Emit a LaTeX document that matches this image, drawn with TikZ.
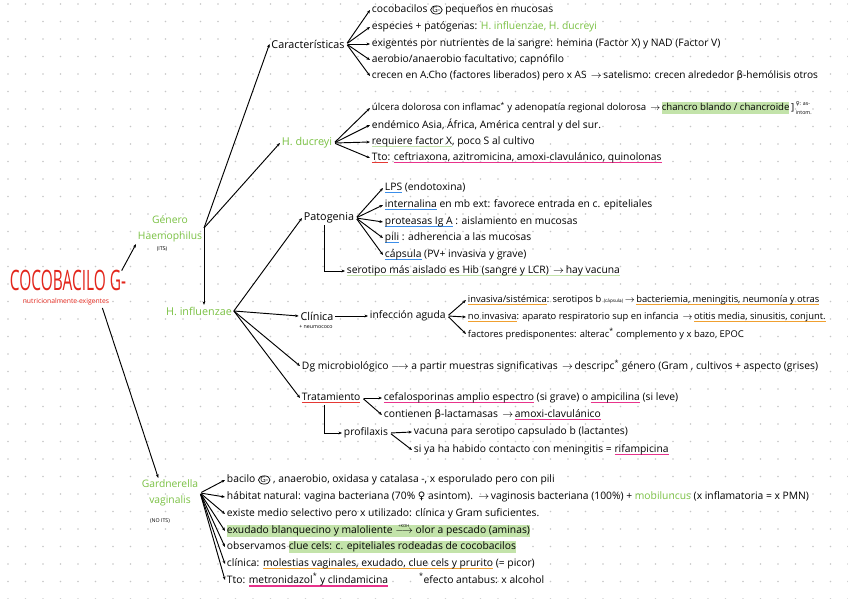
\documentclass[tikz,border=0pt]{standalone}
\usepackage{fontspec,amsmath,graphicx}
\setmainfont{Open Sans}
\newfontfamily\symfont{DejaVu Sans}
\usetikzlibrary{arrows.meta,calc,shapes.geometric}
\definecolor{rootred}{RGB}{227,38,28}
\definecolor{leafgreen}{RGB}{122,193,67}
\colorlet{hlgreen}{leafgreen!45}
\definecolor{ulmagenta}{RGB}{232,51,140}
\definecolor{ulblue}{RGB}{59,142,234}
\definecolor{ulorange}{RGB}{240,160,48}
\definecolor{ulred}{RGB}{229,57,53}
\colorlet{dotgray}{black!22}
\newsavebox\mkbox
\newcommand\uln[2]{\sbox\mkbox{#2}\rlap{\textcolor{#1}{\rule[-2.6pt]{\wd\mkbox}{1.1pt}}}\usebox\mkbox}
\newcommand\hlt[1]{\sbox\mkbox{#1}\rlap{\textcolor{hlgreen}{\rule[-2.8pt]{\wd\mkbox}{9.8pt}}}\usebox\mkbox}
\newcommand\gneg{\tikz[baseline=(gn.base)]\node[draw,ellipse,inner sep=0.1pt,line width=0.6pt,font=\fontsize{6.5}{6.5}\selectfont](gn){G-};}
\newcommand\fem{{\symfont ♀}}
\newcommand\bet{{\symfont β}}
\newcommand\ra{\,$\rightarrow$\,}

\begin{document}
\begin{tikzpicture}[x=0.03cm,y=-0.03cm,
    item/.style={anchor=west,inner sep=1.5pt,font=\fontsize{8.8}{10}\selectfont},
    itemsm/.style={item,font=\fontsize{8}{10}\selectfont},
    hub/.style={inner sep=1.5pt,font=\fontsize{9.2}{10}\selectfont},
    hubtwo/.style={hub,align=center,text=leafgreen,font=\fontsize{8.8}{13.5}\selectfont},
    tag/.style={inner sep=0pt,font=\fontsize{4.5}{5}\selectfont},
    arr/.style={-{Stealth[length=3pt,width=2.4pt]},line width=0.8pt},
    fan/.style={arr,shorten <=1pt}]
  \useasboundingbox (0,0) rectangle (848,599);
  \fill[white] (0,0) rectangle (848,599);
  % dotted paper
  \foreach \i in {0,...,48}{
    \foreach \j in {0,...,34}{
      \fill[dotgray] (8+17.5*\i,4+17.5*\j) circle (0.8);
    }
  }
  % main branches
  \node[text=rootred,inner sep=0pt,font=\fontsize{24}{24}\selectfont] (root) at (68,280) {\scalebox{.55}[1]{COCOBACILO G-}};
  \node[text=rootred,inner sep=0pt,font=\fontsize{5.8}{6}\selectfont] (sub) at (66,302) {nutricionalmente exigentes};
  \node[hubtwo] (haem) at (170,229) {Género\\Haemophilus};
  \node[tag] (its) at (162,249) {(ITS)};
  \node[hubtwo] (gard) at (170,493) {Gardnerella\\vaginalis};
  \node[tag] (noits) at (160,521) {(NO ITS)};
  \node[hub,text=leafgreen] (infl) at (199,311) {H. influenzae};
  \node[hub,text=leafgreen] (ducr) at (307,143) {H. ducreyi};
  \node[hub] (car) at (308,44) {Características};
  \coordinate (hhub) at (204,228);
  \draw[arr] ([shift={(-4pt,-1pt)}]root.north east) -- (haem.south west);
  \draw[arr] ([shift={(-6pt,-2pt)}]sub.south east) -- ([xshift=-10pt]gard.north);
  \draw[arr] (hhub) -- (car.west);
  \draw[arr] (hhub) -- (ducr.west);
  \draw[arr] (hhub) -- (hhub |- infl.north);

  % caracteristicas
  \foreach \n/\y/\t in {1/10/{cocobacilos \gneg\ pequeños en mucosas},
      2/27/{especies + patógenas: \textcolor{leafgreen}{H. influenzae, H. ducreyi}},
      3/44/{exigentes por nutrientes de la sangre: hemina (Factor X) y NAD (Factor V)},
      4/60/{aerobio/anaerobio facultativo, capnófilo},
      5/76/{\fontsize{8.6}{10}\selectfont crecen en A.Cho (factores liberados) pero x AS \ra satelismo: crecen alrededor \bet-hemólisis otros}}{
    \node[item] (car-\n) at (370,\y) {\t};
    \draw[fan] (car.east) -- (car-\n.west);
  }

  % H. ducreyi
  \foreach \n/\y/\t in {1/108/{\fontsize{8.2}{10}\selectfont úlcera dolorosa con inflamac\textsuperscript{*} y adenopatía regional dolorosa \ra\hlt{chancro blando / chancroide}\,]\,\smash{\raisebox{-3.5pt}{\fontsize{4.5}{4.5}\selectfont\shortstack[l]{\fem: as-\\[1.2pt]intom.}}}},
      2/125/{endémico Asia, África, América central y del sur.},
      3/142/{\uln{hlgreen}{requiere factor X}, poco S al cultivo},
      4/158/{\uln{ulred}{Tto}: \uln{ulmagenta}{ceftriaxona, azitromicina, amoxi-clavulánico, quinolonas}}}{
    \node[item] (duc-\n) at (370,\y) {\t};
    \draw[fan] (ducr.east) -- (duc-\n.west);
  }

  % H. influenzae
  \node[hub] (pat) at (329,218) {Patogenia};
  \node[hub] (cli) at (317,316) {Clínica};
  \node[tag] (neumo) at (316,327) {+ neumococo};
  \node[item] (dg) at (300,366) {Dg microbiológico $\longrightarrow$ a partir muestras significativas \ra descripc\textsuperscript{*} género (Gram , cultivos + aspecto (grises)};
  \node[item] (tto) at (300,398) {\uln{ulred}{Tratamiento}};
  \foreach \t in {pat,cli,dg,tto}
    \draw[arr] (infl.east) -- (\t.west);

  \foreach \n/\y/\t in {1/188/{\uln{ulblue}{LPS} (endotoxina)},
      2/205/{\uln{ulblue}{internalina} en mb ext: favorece entrada en c. epiteliales},
      3/222/{\uln{ulblue}{proteasas Ig A} : aislamiento en mucosas},
      4/238/{\uln{ulblue}{pili} : adherencia a las mucosas},
      5/255/{\uln{ulblue}{cápsula} (PV+ invasiva y grave)}}{
    \node[item] (pat-\n) at (383,\y) {\t};
    \draw[fan] (pat.east) -- (pat-\n.west);
  }
  \node[item] (sero) at (345,271) {\uln{hlgreen}{serotipo más aislado es Hib (sangre y LCR) \ra hay vacuna}};
  \draw[arr] ([xshift=-4pt]pat.south) |- (sero.west);

  \node[item] (infa) at (368,316) {infección aguda};
  \draw[arr] (cli.east) -- (infa.west);
  \foreach \n/\y/\t in {1/300/{\uln{ulorange}{invasiva/sistémica}: serotipos b {\fontsize{4}{4}\selectfont(cápsula)}\ra\uln{ulorange}{bacteriemia, meningitis, neumonía y otras}},
      2/317/{\uln{ulorange}{no invasiva}: aparato respiratorio sup en infancia \ra\uln{ulorange}{otitis media, sinusitis, conjunt.}},
      3/334/{factores predisponentes: alterac\textsuperscript{*} complemento y x bazo, EPOC}}{
    \node[itemsm] (cli-\n) at (466,\y) {\t};
    \draw[fan] (infa.east) -- (cli-\n.west);
  }

  \foreach \n/\y/\t in {1/398/{\uln{ulmagenta}{cefalosporinas amplio espectro} (si grave) o \uln{ulmagenta}{ampicilina} (si leve)},
      2/415/{contienen \bet-lactamasas \ra\uln{ulmagenta}{amoxi-clavulánico}}}{
    \node[item] (tto-\n) at (382,\y) {\t};
    \draw[fan] (tto.east) -- (tto-\n.west);
  }
  \node[item] (prof) at (342,433) {profilaxis};
  \draw[arr] ([xshift=-6pt]tto.south) |- (prof.west);
  \foreach \n/\y/\t in {1/432/{vacuna para serotipo capsulado b (lactantes)},
      2/450/{si ya ha habido contacto con meningitis = \uln{ulmagenta}{rifampicina}}}{
    \node[item] (prof-\n) at (412,\y) {\t};
    \draw[fan] (prof.east) -- (prof-\n.west);
  }

  % Gardnerella
  \foreach \n/\y/\t in {1/480/{bacilo \gneg\ , anaerobio, oxidasa y catalasa -, x esporulado pero con pili},
      2/497/{hábitat natural: vagina bacteriana (70\% \fem\ asintom). \ra vaginosis bacteriana (100\%) + \textcolor{leafgreen}{mobiluncus} (x inflamatoria = x PMN)},
      3/514/{existe medio selectivo pero x utilizado: clínica y Gram suficientes.},
      4/531/{\hlt{exudado blanquecino y maloliente\;\rlap{\hspace{2.5pt}\smash{\raisebox{5pt}{\fontsize{3.5}{3.5}\selectfont +KOH}}}$\longrightarrow$\;olor a pescado (aminas)}},
      5/547/{observamos \hlt{clue cels: c. epiteliales rodeadas de cocobacilos}},
      6/564/{clínica: \uln{ulorange}{molestias vaginales, exudado, clue cels y prurito} (= picor)},
      7/580/{Tto: \uln{ulmagenta}{metronidazol\textsuperscript{*} y clindamicina}\hspace{3em}\textsuperscript{*}efecto antabus: x alcohol}}{
    \node[item] (gv-\n) at (225,\y) {\t};
    \draw[fan] (gard.east) -- (gv-\n.west);
  }
\end{tikzpicture}
\end{document}
